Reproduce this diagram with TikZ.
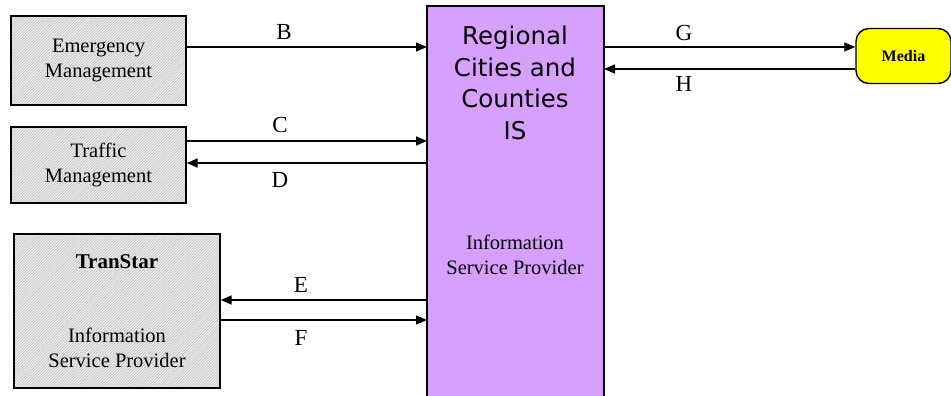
\documentclass[tikz,border=0pt]{standalone}
\usepackage{fontspec}
\setmainfont{Liberation Serif}
\newfontfamily\vfont{DejaVu Sans}
\usetikzlibrary{arrows.meta,patterns.meta}
\definecolor{isviolet}{RGB}{215,160,255}
\definecolor{mediayellow}{RGB}{255,255,0}
\tikzset{
  hatchbox/.style={draw=black, line width=1.4pt,
    preaction={fill=gray!15},
    pattern={Lines[angle=45,distance=2pt,line width=0.35pt]}, pattern color=gray!65},
  flow/.style={line width=1.4pt, -{Triangle[length=11pt,width=9pt]}},
  lbl/.style={font=\fontsize{23}{25}\selectfont, inner sep=0pt},
  boxtext/.style={font=\fontsize{20.5}{25}\selectfont, align=center, inner sep=0pt},
}
\begin{document}
\begin{tikzpicture}[x=1pt,y=-1pt]
\useasboundingbox (0,0) rectangle (951,396);
\begin{scope}
\clip (0,0) rectangle (951,396);
% central system
\draw[line width=1.4pt, fill=isviolet] (427,6) rectangle (604,410);
\node[boxtext, font=\vfont\fontsize{24.5}{31.5}\selectfont] (rcc) at (515,83)
  {Regional\\Cities and\\Counties\\IS};
\node[boxtext] (rccisp) at (515,255) {Information\\Service Provider};
\coordinate (rccW) at (427,0);
\coordinate (rccE) at (604,0);
% media
\node[draw, line width=1.4pt, fill=mediayellow, rounded corners=13pt,
  minimum width=95pt, minimum height=55pt, inner sep=0pt,
  font=\bfseries\fontsize{16}{18}\selectfont] (media) at (903.5,56) {Media};
\end{scope}
% external centres
\node[hatchbox, minimum width=175pt, minimum height=89pt, inner sep=0pt] (em) at (98.5,60.5) {};
\node[boxtext] at (em) {Emergency\\Management};
\node[hatchbox, minimum width=175pt, minimum height=76pt, inner sep=0pt] (tm) at (98.5,165) {};
\node[boxtext] at (tm) {Traffic\\Management};
\node[hatchbox, minimum width=206pt, minimum height=154pt, inner sep=0pt] (ts) at (117,311) {};
\node[boxtext, font=\bfseries\fontsize{21}{25}\selectfont] at (117,262) {TranStar};
\node[boxtext] at (117,348) {Information\\Service Provider};
% flows
\draw[flow] (em.east |- 0,47) -- (rccW |- 0,47);
\draw[flow] (tm.east |- 0,141) -- (rccW |- 0,141);
\draw[flow] (rccW |- 0,163) -- (tm.east |- 0,163);
\draw[flow] (rccW |- 0,300) -- (ts.east |- 0,300);
\draw[flow] (ts.east |- 0,320) -- (rccW |- 0,320);
\draw[flow] (rccE |- 0,47) -- (media.west |- 0,47);
\draw[flow] (media.west |- 0,69) -- (rccE |- 0,69);
% flow labels
\node[lbl] (lb) at (284,32) {B};
\node[lbl] (lc) at (280,125) {C};
\node[lbl] (ld) at (280,180) {D};
\node[lbl] (le) at (301,285) {E};
\node[lbl] (lf) at (301,338) {F};
\node[lbl] (lg) at (684,33) {G};
\node[lbl] (lh) at (684,84) {H};
\end{tikzpicture}
\end{document}
